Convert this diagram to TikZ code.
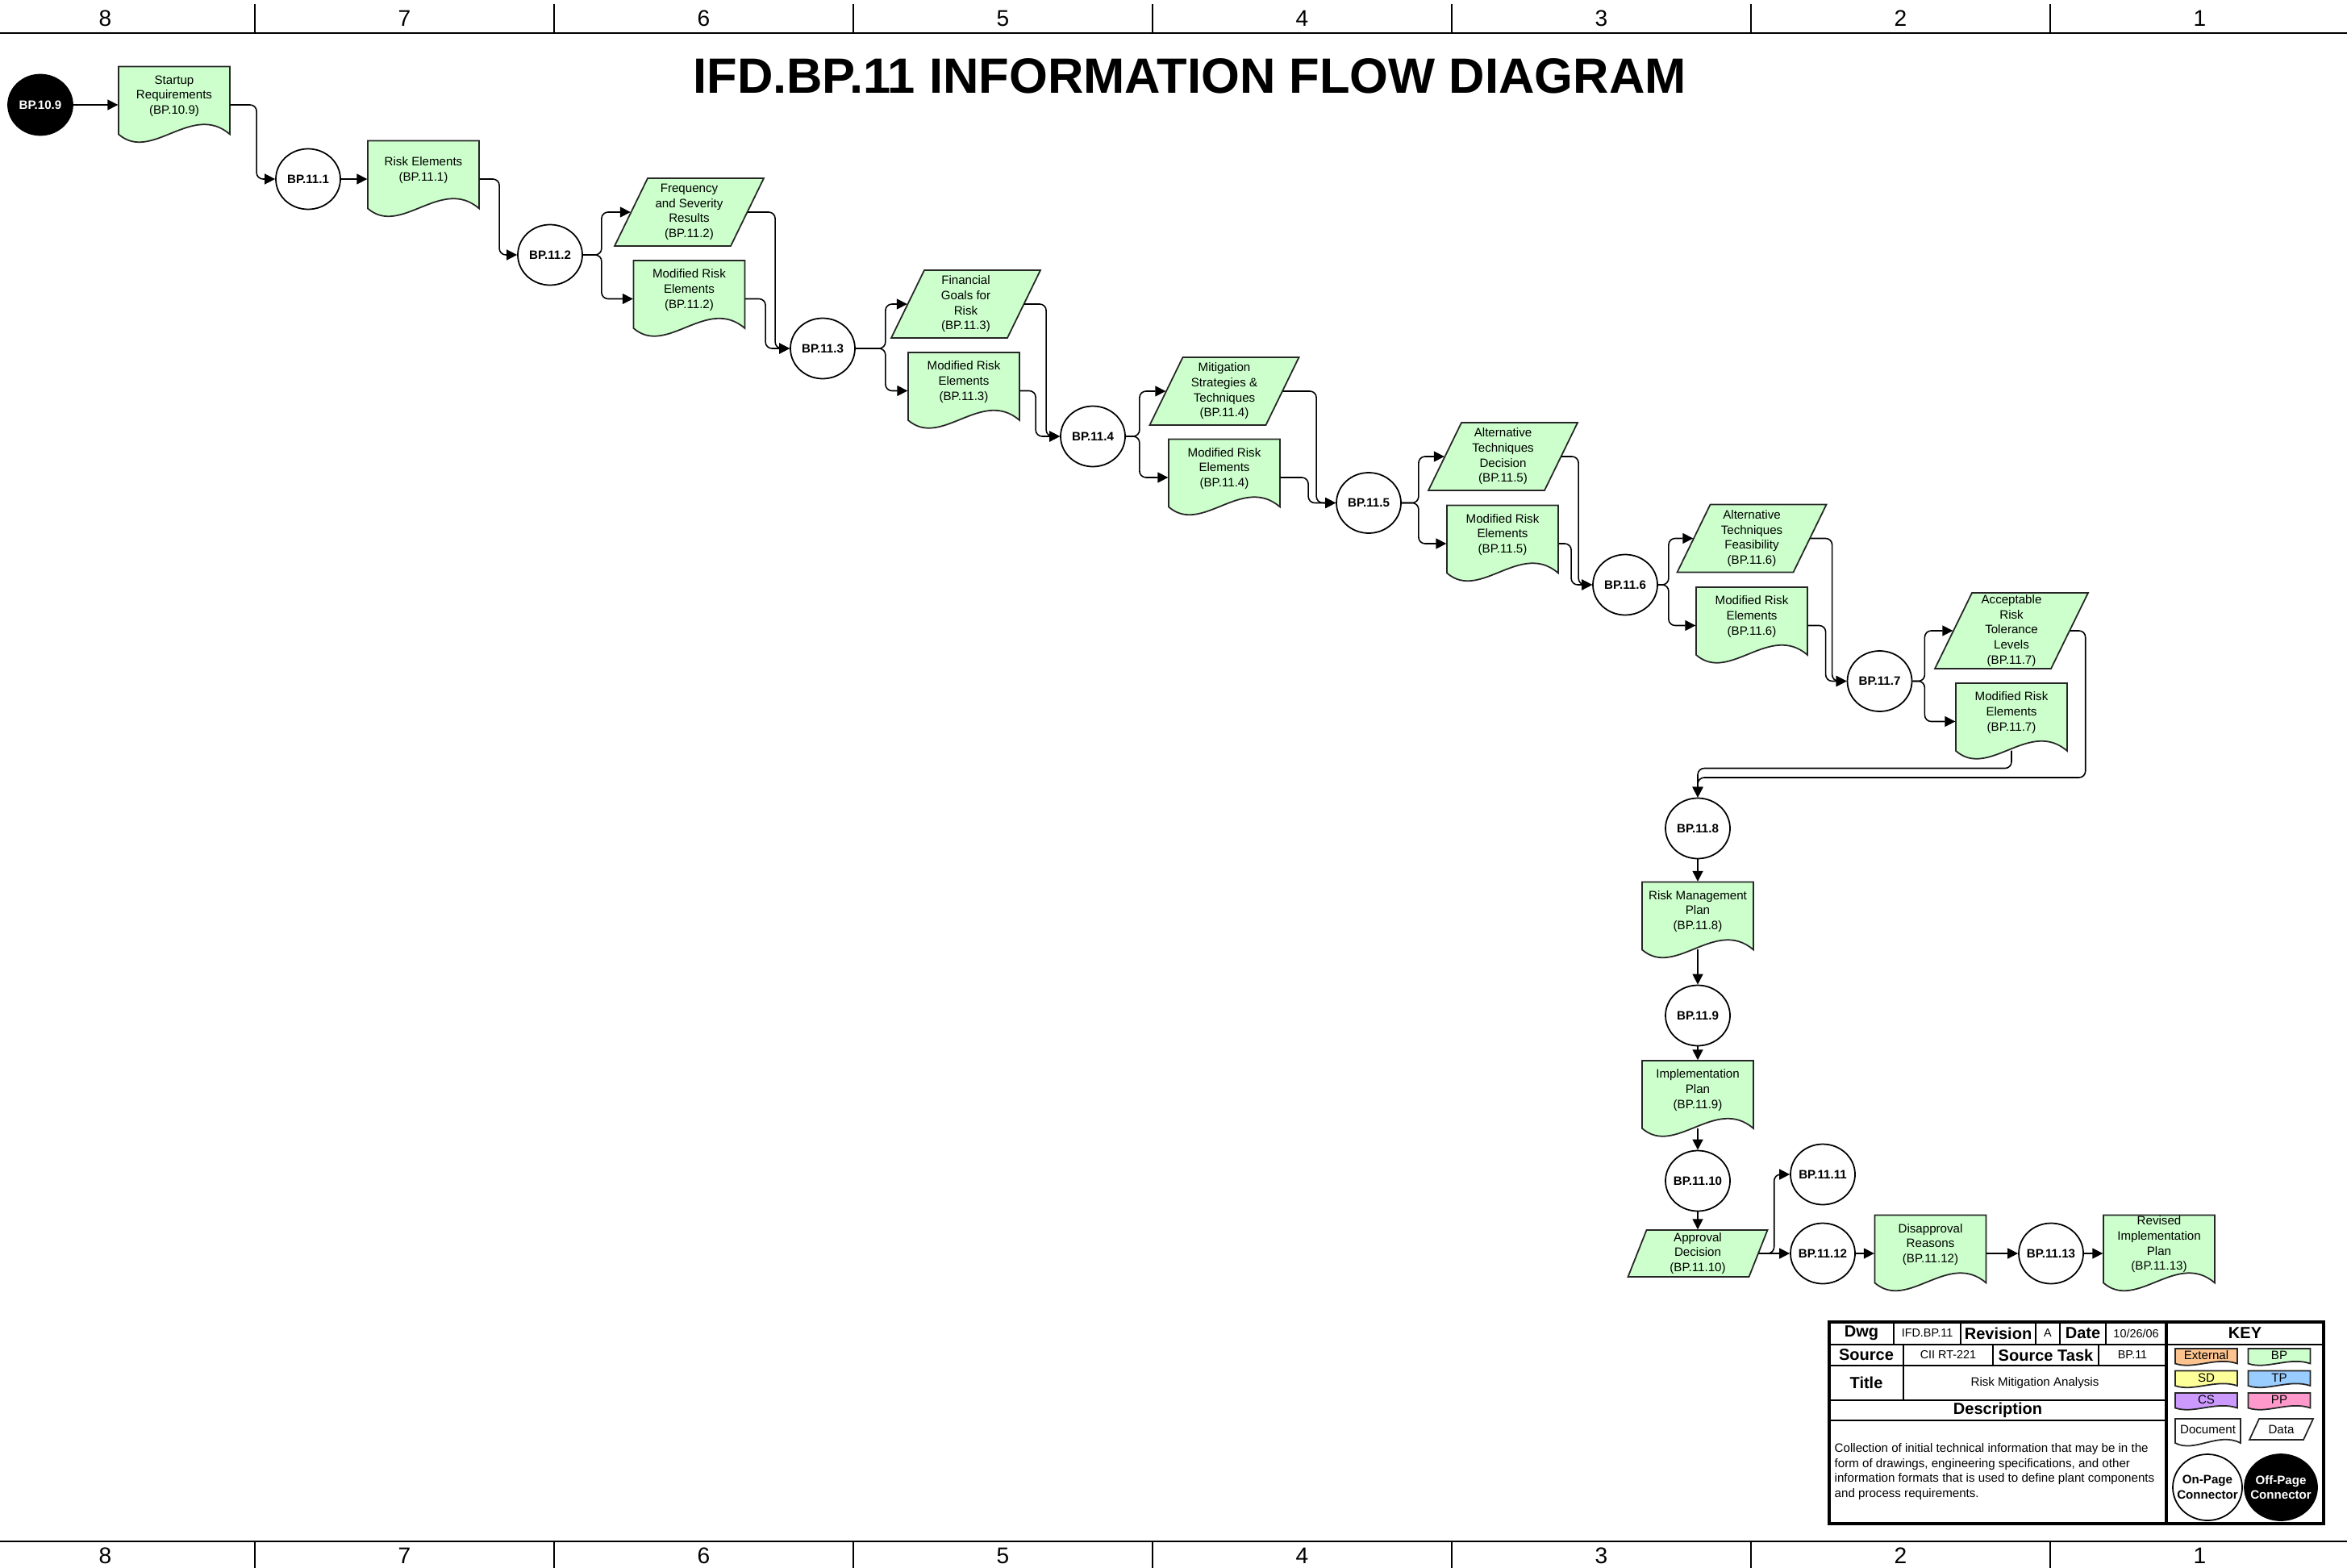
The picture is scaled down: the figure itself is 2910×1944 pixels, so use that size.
\documentclass[tikz,border=0pt]{standalone}
\usepackage{fontspec}
\setmainfont{Liberation Sans}
\usetikzlibrary{arrows.meta, shapes.geometric}

\definecolor{bpvert}{HTML}{CCFFCC}
\definecolor{extorange}{HTML}{FCC38F}
\definecolor{sdjaune}{HTML}{FFFF99}
\definecolor{tpbleu}{HTML}{99CCFF}
\definecolor{csviolet}{HTML}{CC99FF}
\definecolor{pprose}{HTML}{FF99CC}

\newcommand{\petit}{\fontsize{4.3}{5.3}\selectfont}

\tikzset{
  contour/.style={draw=black!85, line width=0.5pt},
  flux/.style={draw, line width=0.45pt, rounded corners=0.8mm, -{Triangle[length=1.3mm,width=1.3mm]}},
  proc/.style={ellipse, draw, line width=0.5pt, fill=white, minimum width=8mm, minimum height=7.5mm,
    inner xsep=-1mm, inner ysep=0pt, align=center, font=\petit\bfseries},
  horspage/.style={proc, fill=black, text=white},
  docframe/.style={rectangle, minimum width=13.8mm, minimum height=9.5mm, inner sep=0pt},
  doctexte/.style={align=center, font=\petit, inner sep=0pt},
  cle/.style={font=\petit, inner sep=0pt},
  colnum/.style={font=\fontsize{8}{9.6}\selectfont, inner sep=0pt},
  titre/.style={font=\fontsize{17.5}{20}\selectfont\bfseries, inner sep=0pt},
  tbtete/.style={font=\fontsize{5.7}{6.8}\selectfont\bfseries, inner sep=0pt},
  tbval/.style={font=\fontsize{4.1}{5}\selectfont, inner sep=0pt},
  trait/.style={line width=0.5pt},
  gras/.style={line width=1.2pt}
}

% document a bord ondule : fond, centre, demi-largeur, demi-hauteur
\newcommand{\vague}[4]{%
  \filldraw[contour, fill=#1, shift={(#2)}] (-#3,-#4) -- (#3,-#4) -- (#3,0.768*#4)
    .. controls (0.319*#3,-0.084*#4) and (-0.406*#3,1.516*#4) .. (-#3,0.768*#4) -- cycle;}

\newcommand{\docnode}[3]{%
  \vague{bpvert}{#2}{69}{47.5}
  \node[docframe] (#1) at (#2) {};
  \node[doctexte] (#1t) at ([yshift=1.1mm]#1.center) {#3};
  \coordinate (#1b) at ([yshift=-3.6mm]#1.center);}

% donnee (parallelogramme) : nom, centre, W, H, biais, texte
\newcommand{\datanode}[7][bpvert]{%
  \filldraw[contour, fill=#1, shift={(#3)}] (-#4+#6,-#5) -- (#4,-#5) -- (#4-#6,#5) -- (-#4,#5) -- cycle;
  \pgfmathsetmacro{\dlarg}{(2*#4-#6)*0.1}
  \pgfmathsetmacro{\dhaut}{2*#5*0.1}
  \node[doctexte, minimum width=\dlarg mm, minimum height=\dhaut mm] (#2) at (#3) {#7};}

\begin{document}
\begin{tikzpicture}[x=0.1mm, y=-0.1mm]
\useasboundingbox (0,0) rectangle (2910,1944);

% bandes de reperes
\draw[line width=0.6pt] (0,41) -- (2910,41);
\draw[line width=0.6pt] (0,1911) -- (2910,1911);
\foreach \x in {316,687,1058,1429,1800,2171,2542} {
  \draw[line width=0.45pt] (\x,5) -- (\x,41);
  \draw[line width=0.45pt] (\x,1911) -- (\x,1944);
}
\foreach \n [count=\i from 0] in {8,7,...,1} {
  \node[colnum] (haut\n) at (130.5+371*\i,23) {\n};
  \node[colnum] (bas\n) at (130.5+371*\i,1929) {\n};
}

\node[titre] (titre) at (1475,94) {IFD.BP.11 INFORMATION FLOW DIAGRAM};

% etapes
\node[horspage] (bp109) at (50,130) {BP.10.9};
\docnode{s0}{216,130}{Startup\\Requirements\\(BP.10.9)}
\node[proc] (p1) at (382,222) {BP.11.1};
\docnode{r1}{525,222}{Risk Elements\\(BP.11.1)}
\node[proc] (p2) at (682,316) {BP.11.2};
\datanode{d2}{854.5,263}{92.5}{42}{41}{Frequency\\and Severity\\Results\\(BP.11.2)}
\docnode{m2}{854.5,370.5}{Modified Risk\\Elements\\(BP.11.2)}
\node[proc] (p3) at (1020,432) {BP.11.3};
\datanode{d3}{1197.5,377}{92.5}{42}{41}{Financial\\Goals for\\Risk\\(BP.11.3)}
\docnode{m3}{1195,484.5}{Modified Risk\\Elements\\(BP.11.3)}
\node[proc] (p4) at (1355,541) {BP.11.4};
\datanode{d4}{1518,485}{92.5}{42}{41}{Mitigation\\Strategies \&\\Techniques\\(BP.11.4)}
\docnode{m4}{1518,592}{Modified Risk\\Elements\\(BP.11.4)}
\node[proc] (p5) at (1697,623.5) {BP.11.5};
\datanode{d5}{1863.5,566}{92.5}{42}{41}{Alternative\\Techniques\\Decision\\(BP.11.5)}
\docnode{m5}{1863,674}{Modified Risk\\Elements\\(BP.11.5)}
\node[proc] (p6) at (2015,725) {BP.11.6};
\datanode{d6}{2172,667.5}{92.5}{42}{41}{Alternative\\Techniques\\Feasibility\\(BP.11.6)}
\docnode{m6}{2172,775.5}{Modified Risk\\Elements\\(BP.11.6)}
\node[proc] (p7) at (2330.5,844.5) {BP.11.7};
\datanode{d7}{2494,782}{95}{47}{46}{Acceptable\\Risk\\Tolerance\\Levels\\(BP.11.7)}
\docnode{m7}{2494,894.5}{Modified Risk\\Elements\\(BP.11.7)}
\node[proc] (p8) at (2105,1027) {BP.11.8};
\docnode{rm8}{2105,1141}{Risk Management\\Plan\\(BP.11.8)}
\node[proc] (p9) at (2105,1259) {BP.11.9};
\docnode{ip9}{2105,1362.5}{Implementation\\Plan\\(BP.11.9)}
\node[proc] (p10) at (2105,1464) {BP.11.10};
\datanode{ad10}{2105,1554}{86.5}{29}{23}{Approval\\Decision\\(BP.11.10)}
\node[proc] (p11) at (2260,1456) {BP.11.11};
\node[proc] (p12) at (2260,1554) {BP.11.12};
\docnode{dr12}{2393.5,1554}{Disapproval\\Reasons\\(BP.11.12)}
\node[proc] (p13) at (2543,1554) {BP.11.13};
\docnode{rv13}{2677,1554}{Revised\\Implementation\\Plan\\(BP.11.13)}

% liaisons
\draw[flux] (bp109.east) -- (s0.west);
\draw[flux] (s0.east) -| ([xshift=-2.3mm]p1.west) -- (p1.west);
\draw[flux] (p1.east) -- (r1.west);
\draw[flux] (r1.east) -| ([xshift=-2.2mm]p2.west) -- (p2.west);
\draw[flux] (p2.east) -- ++(23,0) |- (d2.west);
\draw[flux] (p2.east) -- ++(23,0) |- (m2.west);
\draw[flux] (d2.east) -| ([xshift=-1.8mm]p3.west) -- (p3.west);
\draw[flux] (m2.east) -| ([xshift=-3mm]p3.west) -- (p3.west);
\draw[flux] (p3.east) -- ++(37,0) |- (d3.west);
\draw[flux] (p3.east) -- ++(37,0) |- (m3.west);
\draw[flux] (d3.east) -| ([xshift=-1.7mm]p4.west) -- (p4.west);
\draw[flux] (m3.east) -| ([xshift=-3mm]p4.west) -- (p4.west);
\draw[flux] (p4.east) -- ++(17,0) |- (d4.west);
\draw[flux] (p4.east) -- ++(17,0) |- (m4.west);
\draw[flux] (d4.east) -| ([xshift=-2.4mm]p5.west) -- (p5.west);
\draw[flux] (m4.east) -| ([xshift=-3.4mm]p5.west) -- (p5.west);
\draw[flux] (p5.east) -- ++(21,0) |- (d5.west);
\draw[flux] (p5.east) -- ++(21,0) |- (m5.west);
\draw[flux] (d5.east) -| ([xshift=-1.7mm]p6.west) -- (p6.west);
\draw[flux] (m5.east) -| ([xshift=-2.6mm]p6.west) -- (p6.west);
\draw[flux] (p6.east) -- ++(13,0) |- (d6.west);
\draw[flux] (p6.east) -- ++(13,0) |- (m6.west);
\draw[flux] (d6.east) -| ([xshift=-1.8mm]p7.west) -- (p7.west);
\draw[flux] (m6.east) -| ([xshift=-2.6mm]p7.west) -- (p7.west);
\draw[flux] (p7.east) -- ++(15,0) |- (d7.west);
\draw[flux] (p7.east) -- ++(15,0) |- (m7.west);
\draw[flux] (d7.east) -| ++(19,182) -| (p8.north);
\draw[flux] (m7b) -- ++(0,22) -| (p8.north);
\draw[flux] (p8.south) -- (rm8.north);
\draw[flux] (rm8b) -- (p9.north);
\draw[flux] (p9.south) -- (ip9.north);
\draw[flux] (ip9b) -- (p10.north);
\draw[flux] (p10.south) -- (ad10.north);
\draw[flux] (ad10.east) -- (p12.west);
\draw[flux] (ad10.east) -- ++(19,0) |- (p11.west);
\draw[flux] (p12.east) -- (dr12.west);
\draw[flux] (dr12.east) -- (p13.west);
\draw[flux] (p13.east) -- (rv13.west);

% cartouche
\draw[gras] (2268,1639) rectangle (2881,1889);
\draw[gras] (2686,1639) -- (2686,1889);
\draw[trait] (2268,1667) -- (2881,1667);
\draw[trait] (2268,1693) -- (2686,1693);
\draw[trait] (2268,1736) -- (2686,1736);
\draw[trait] (2268,1761) -- (2686,1761);
\foreach \x in {2348,2431,2524,2554,2611} \draw[trait] (\x,1639) -- (\x,1667);
\foreach \x in {2360,2471,2602} \draw[trait] (\x,1667) -- (\x,1693);
\draw[trait] (2360,1693) -- (2360,1736);

\node[tbtete] (tdwg) at (2308,1653) {Dwg};
\node[tbval] (tdwgv) at (2389.5,1653) {IFD.BP.11};
\node[tbtete] (trev) at (2477.5,1653) {Revision};
\node[tbval] (trevv) at (2539,1653) {A};
\node[tbtete] (tdate) at (2582.5,1653) {Date};
\node[tbval] (tdatev) at (2648.5,1653) {10/26/06};
\node[tbtete] (tsrc) at (2314,1680) {Source};
\node[tbval] (tsrcv) at (2415.5,1680) {CII RT-221};
\node[tbtete] (ttask) at (2536.5,1680) {Source Task};
\node[tbval] (ttaskv) at (2644,1680) {BP.11};
\node[tbtete] (ttitle) at (2314,1714.5) {Title};
\node[tbval, font=\petit] (ttitlev) at (2523,1714.5) {Risk Mitigation Analysis};
\node[tbtete] (tdesc) at (2477,1748.5) {Description};
\node[tbval, font=\petit, align=left, anchor=west] (tdesctxt) at (2274,1824.5)
  {Collection of initial technical information that may be in the\\form of drawings, engineering specifications, and other\\information formats that is used to define plant components\\and process requirements.};

% legende
\node[tbtete] (tkey) at (2783.5,1653) {KEY};
\vague{extorange}{2735.5,1682.5}{38.5}{10.5}
\node[cle] (kext) at (2735.5,1680.5) {External};
\vague{bpvert}{2826,1682.5}{38.5}{10.5}
\node[cle] (kbp) at (2826,1680.5) {BP};
\vague{sdjaune}{2735.5,1710}{38.5}{10.5}
\node[cle] (ksd) at (2735.5,1708) {SD};
\vague{tpbleu}{2826,1710}{38.5}{10.5}
\node[cle] (ktp) at (2826,1708) {TP};
\vague{csviolet}{2735.5,1737.5}{38.5}{10.5}
\node[cle] (kcs) at (2735.5,1735.5) {CS};
\vague{pprose}{2826,1737.5}{38.5}{10.5}
\node[cle] (kpp) at (2826,1735.5) {PP};
\vague{white}{2737.5,1776}{40.5}{17}
\node[cle] (kdoc) at (2737.5,1772) {Document};
\datanode[white]{kdata}{2828.5,1772}{39.5}{13}{12}{Data}
\node[proc, minimum width=8.6mm, minimum height=8.2mm] (kon) at (2737,1844) {On-Page\\Connector};
\node[horspage, minimum width=9mm, minimum height=8.2mm] (koff) at (2828,1844) {Off-Page\\Connector};
\end{tikzpicture}
\end{document}
